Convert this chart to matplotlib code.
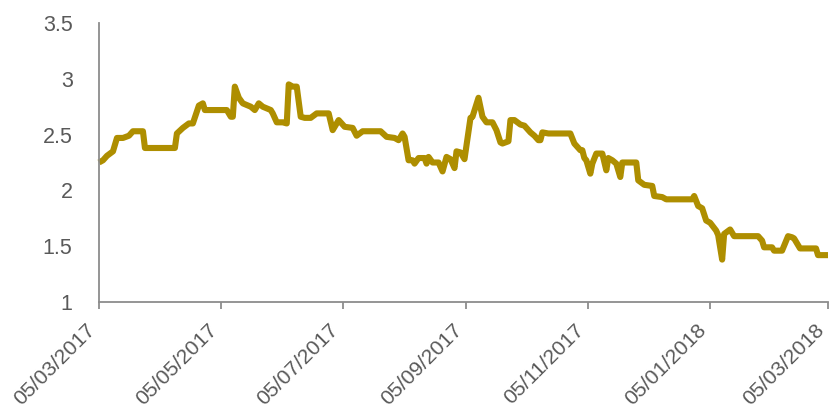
import matplotlib
matplotlib.use("Agg")
import matplotlib.pyplot as plt
import pandas as pd

dates = [
    "2017-03-05", "2017-03-07", "2017-03-09", "2017-03-12", "2017-03-14", "2017-03-17",
    "2017-03-20", "2017-03-22", "2017-03-27", "2017-03-28", "2017-04-12", "2017-04-13",
    "2017-04-16", "2017-04-19", "2017-04-21", "2017-04-24", "2017-04-26", "2017-04-27",
    "2017-05-08", "2017-05-10", "2017-05-11", "2017-05-12", "2017-05-14", "2017-05-16",
    "2017-05-20", "2017-05-22", "2017-05-24", "2017-05-26", "2017-05-30", "2017-05-31",
    "2017-06-02", "2017-06-05", "2017-06-07", "2017-06-08", "2017-06-10", "2017-06-12",
    "2017-06-14", "2017-06-16", "2017-06-19", "2017-06-22", "2017-06-28", "2017-06-30",
    "2017-07-03", "2017-07-06", "2017-07-10", "2017-07-12", "2017-07-15", "2017-07-24",
    "2017-07-27", "2017-07-31", "2017-08-02", "2017-08-04", "2017-08-05", "2017-08-07",
    "2017-08-09", "2017-08-10", "2017-08-12", "2017-08-15", "2017-08-16", "2017-08-17",
    "2017-08-19", "2017-08-22", "2017-08-24", "2017-08-26", "2017-08-28", "2017-08-30",
    "2017-08-31", "2017-09-02", "2017-09-04", "2017-09-07", "2017-09-08", "2017-09-11",
    "2017-09-13", "2017-09-15", "2017-09-18", "2017-09-20", "2017-09-22", "2017-09-23",
    "2017-09-26", "2017-09-27", "2017-09-29", "2017-10-02", "2017-10-04", "2017-10-07",
    "2017-10-09", "2017-10-11", "2017-10-12", "2017-10-13", "2017-10-16", "2017-10-27",
    "2017-10-29", "2017-11-01", "2017-11-02", "2017-11-03", "2017-11-04", "2017-11-06",
    "2017-11-07", "2017-11-09", "2017-11-12", "2017-11-14", "2017-11-15", "2017-11-17",
    "2017-11-19", "2017-11-21", "2017-11-22", "2017-11-29", "2017-11-30", "2017-12-03",
    "2017-12-07", "2017-12-08", "2017-12-12", "2017-12-14", "2017-12-27", "2017-12-28",
    "2017-12-30", "2018-01-01", "2018-01-03", "2018-01-05", "2018-01-08", "2018-01-09",
    "2018-01-11", "2018-01-12", "2018-01-15", "2018-01-17", "2018-01-29", "2018-01-31",
    "2018-02-01", "2018-02-05", "2018-02-06", "2018-02-10", "2018-02-13", "2018-02-15",
    "2018-02-16", "2018-02-19", "2018-02-27", "2018-02-28", "2018-03-05",
]
values = [
    2.25, 2.27, 2.31, 2.35, 2.47, 2.47,
    2.49, 2.53, 2.53, 2.38, 2.38, 2.51,
    2.56, 2.60, 2.60, 2.76, 2.78, 2.72,
    2.72, 2.66, 2.66, 2.93, 2.83, 2.78,
    2.75, 2.72, 2.78, 2.75, 2.72, 2.69,
    2.61, 2.61, 2.60, 2.95, 2.93, 2.93,
    2.66, 2.65, 2.65, 2.69, 2.69, 2.54,
    2.63, 2.57, 2.56, 2.49, 2.53, 2.53,
    2.48, 2.47, 2.45, 2.51, 2.48, 2.27,
    2.27, 2.24, 2.29, 2.29, 2.24, 2.30,
    2.25, 2.25, 2.17, 2.30, 2.28, 2.20,
    2.35, 2.34, 2.28, 2.65, 2.66, 2.83,
    2.66, 2.61, 2.61, 2.54, 2.43, 2.42,
    2.44, 2.63, 2.63, 2.59, 2.58, 2.52,
    2.49, 2.45, 2.45, 2.52, 2.51, 2.51,
    2.42, 2.36, 2.36, 2.29, 2.27, 2.15,
    2.24, 2.33, 2.33, 2.18, 2.29, 2.27,
    2.24, 2.12, 2.25, 2.25, 2.09, 2.05,
    2.04, 1.95, 1.94, 1.92, 1.92, 1.95,
    1.86, 1.84, 1.73, 1.71, 1.64, 1.60,
    1.38, 1.61, 1.65, 1.59, 1.59, 1.55,
    1.49, 1.49, 1.46, 1.46, 1.59, 1.58,
    1.57, 1.48, 1.48, 1.42, 1.42,
]
tick_dates = ["2017-03-05", "2017-05-05", "2017-07-05", "2017-09-05",
              "2017-11-05", "2018-01-05", "2018-03-05"]
y_ticks = [1, 1.5, 2, 2.5, 3, 3.5]
y_labels = ["1", "1.5", "2", "2.5", "3", "3.5"]

plt.rcParams["font.family"] = ["Liberation Sans", "DejaVu Sans"]

fig = plt.figure(figsize=(8.33, 4.17), dpi=100)
ax = fig.add_axes([99 / 833, 1 - 302 / 417, (828 - 99) / 833, (302 - 23) / 417])

x = pd.to_datetime(dates)
ax.plot(x, values, color="#AE8E00", lw=4.4, solid_joinstyle="round", solid_capstyle="butt",
        clip_on=False)

ax.set_xlim(pd.Timestamp(tick_dates[0]), pd.Timestamp(tick_dates[-1]))
ax.set_ylim(1, 3.5)
ax.set_yticks(y_ticks)
ax.set_yticklabels(y_labels)
tx = pd.to_datetime(tick_dates)
ax.set_xticks(tx)
ax.set_xticklabels([d.strftime("%d/%m/%Y") for d in tx], rotation=45, ha="right", va="top")

for s in ["top", "right"]:
    ax.spines[s].set_visible(False)
for s in ["left", "bottom"]:
    ax.spines[s].set_color("#8C8C8C")
    ax.spines[s].set_linewidth(1.3)

ax.tick_params(axis="y", length=0, pad=19, labelsize=15.5, labelcolor="#595959")
ax.tick_params(axis="x", length=5, width=1.3, color="#8C8C8C", pad=8, labelsize=15.2,
               labelcolor="#595959", direction="out")

fig.savefig("out.png", dpi=100)
